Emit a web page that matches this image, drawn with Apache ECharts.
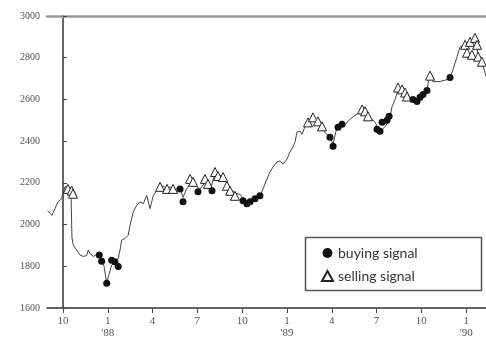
<!DOCTYPE html>
<html>
<head>
<meta charset="utf-8">
<script src="https://cdn.jsdelivr.net/npm/echarts@6/dist/echarts.min.js"></script>
<style>
  html, body { margin: 0; padding: 0; background: #fff; }
  #chart { width: 486px; height: 339px; }
</style>
</head>
<body>
<div id="chart"></div>
<script>
// x values are months counted from Oct '87 (0 = Oct, 3 = Jan '88, ...)
const tickMonths = [0, 3, 6, 9, 12, 15, 18, 21, 24, 27]
const tickLabels = ['10', "1\n'88", '4', '7', '10', "1\n'89", '4', '7', '10', "1\n'90"]

const priceMonth = [-1.04, -0.87, -0.74, -0.54, -0.33, -0.09, 0.02, 0.13, 0.25, 0.37, 0.50, 0.54, 0.60, 0.69, 0.92,
  1.14, 1.36, 1.59, 1.69, 1.81, 2.03, 2.26, 2.43, 2.59, 2.75, 2.93, 3.08, 3.26, 3.48, 3.70, 3.82, 3.93, 4.15, 4.37,
  4.49, 4.60, 4.71, 4.94, 5.16, 5.38, 5.61, 5.83, 6.05, 6.28, 6.50, 6.70, 6.90, 7.17, 7.50, 7.84, 8.04, 8.24, 8.51,
  8.71, 8.91, 9.18, 9.44, 9.71, 9.91, 10.18, 10.45, 10.72, 10.98, 11.25, 11.52, 11.86, 12.12, 12.39, 12.66, 12.93,
  13.19, 13.40, 13.66, 13.86, 14.07, 14.33, 14.53, 14.74, 15.00, 15.20, 15.40, 15.54, 15.67, 15.87, 16.01, 16.21,
  16.41, 16.74, 17.08, 17.35, 17.55, 17.88, 18.09, 18.29, 18.55, 18.89, 19.22, 19.69, 20.03, 20.23, 20.43, 20.70,
  20.90, 21.10, 21.37, 21.57, 21.77, 21.90, 22.04, 22.24, 22.44, 22.71, 22.91, 23.11, 23.38, 23.64, 23.91, 24.11,
  24.38, 24.51, 24.65, 24.78, 25.25, 25.72, 25.92, 26.12, 26.39, 26.59, 26.86, 27.13, 27.39, 27.59, 27.80, 28.00,
  28.20, 28.33]
const priceValue = [2067, 2055, 2044, 2076, 2110, 2124, 2157, 2181, 2187, 2180, 2165, 2150, 1940, 1901, 1878,
  1854, 1847, 1852, 1878, 1862, 1847, 1857, 1850, 1828, 1800, 1719, 1760, 1806, 1820, 1838, 1878, 1925, 1933, 1949,
  1997, 2029, 2062, 2092, 2109, 2100, 2140, 2076, 2140, 2163, 2175, 2185, 2175, 2180, 2170, 2175, 2130, 2165, 2195,
  2215, 2185, 2170, 2195, 2215, 2175, 2250, 2240, 2225, 2200, 2170, 2150, 2145, 2120, 2105, 2115, 2110,
  2135, 2171, 2219, 2252, 2276, 2300, 2305, 2290, 2314, 2348, 2371, 2395, 2443, 2448, 2433, 2471,
  2485, 2505, 2490, 2468, 2440, 2420, 2385, 2450, 2475, 2480, 2505, 2530, 2545, 2540, 2520, 2505,
  2490, 2465, 2455, 2470, 2490, 2515, 2565, 2600, 2645, 2645, 2630, 2615, 2605, 2595, 2600, 2620,
  2645, 2700, 2715, 2685, 2686, 2695, 2705, 2743, 2805, 2852, 2860, 2870, 2880, 2885, 2820, 2790,
  2745, 2710]

const buyMonth = [2.43, 2.59, 2.93, 3.26, 3.48, 3.70, 7.84, 8.04, 9.04, 9.98, 12.06, 12.32, 12.53, 12.86, 13.19,
  17.88, 18.09, 18.42, 18.69, 21.03, 21.23, 21.37, 21.70, 21.84, 23.44, 23.71, 23.91, 24.11, 24.38, 25.92]
const buyValue = [1854, 1824, 1719, 1829, 1822, 1799, 2171, 2110, 2157, 2162, 2114, 2100, 2110, 2124, 2138,
  2419, 2376, 2467, 2481, 2457, 2448, 2490, 2500, 2519, 2600, 2590, 2610, 2624, 2643, 2705]

const sellMonth = [0.33, 0.58, 0.67, 6.50, 6.97, 7.37, 8.51, 8.71, 9.51, 9.71, 10.18, 10.38, 10.72, 10.98, 11.19,
  11.52, 16.41, 16.74, 17.08, 17.35, 20.03, 20.23, 20.43, 22.44, 22.71, 22.91, 23.04, 24.58, 26.93, 27.26, 27.59,
  27.06, 27.39, 27.73, 27.80, 28.06]
const sellValue = [2171, 2163, 2148, 2181, 2171, 2171, 2219, 2205, 2219, 2195, 2252, 2233, 2228, 2186, 2162,
  2138, 2490, 2514, 2495, 2471, 2552, 2543, 2519, 2657, 2648, 2633, 2614, 2714, 2862, 2876, 2895,
  2824, 2814, 2862, 2805, 2781]

const zip = (xs, ys) => xs.map((x, i) => [x, ys[i]])

const xMin = -1.07, xMax = 28.33
const serif = 'Liberation Serif'

const chart = echarts.init(document.getElementById('chart'), null, { renderer: 'canvas' })
chart.setOption({
  animation: false,
  backgroundColor: '#fff',
  grid: { left: 47, right: 0, top: 16, bottom: 29 },
  legend: {
    data: ['buying signal', 'selling signal'],
    orient: 'vertical',
    left: 316, top: 241,
    itemWidth: 11, itemHeight: 10, itemGap: 9,
    textStyle: { fontFamily: 'Lato', fontSize: 14, color: '#333' }
  },
  graphic: [{
    type: 'rect',
    shape: { x: 305.5, y: 237.5, width: 176, height: 53 },
    style: { fill: 'none', stroke: '#555', lineWidth: 1.5 }
  }],
  xAxis: [{
    type: 'value', min: xMin, max: xMax,
    axisLine: { lineStyle: { color: '#333', width: 1.5 } },
    splitLine: { show: false },
    axisTick: { customValues: tickMonths, length: 5, lineStyle: { color: '#444' } },
    axisLabel: {
      customValues: tickMonths,
      formatter: v => tickLabels[tickMonths.indexOf(v)],
      fontFamily: serif, fontSize: 11, color: '#555', lineHeight: 12, margin: 7
    }
  }, {
    type: 'value', min: xMin, max: xMax, position: 'top',
    axisLine: { lineStyle: { color: '#999', width: 2.5 } },
    axisTick: { show: false }, axisLabel: { show: false }, splitLine: { show: false }
  }],
  yAxis: {
    type: 'value', min: 1600, max: 3000, interval: 200,
    axisLine: { show: true, lineStyle: { color: '#333', width: 1.5 } },
    splitLine: { show: false },
    axisTick: { show: true, inside: true, length: 4, lineStyle: { color: '#444' } },
    axisLabel: { fontFamily: serif, fontSize: 10, color: '#555', margin: 7, formatter: v => String(v) }
  },
  series: [{
    name: 'price', type: 'line', data: zip(priceMonth, priceValue),
    showSymbol: false, lineStyle: { color: '#444', width: 1 }, z: 1
  }, {
    name: 'buying signal', type: 'scatter', data: zip(buyMonth, buyValue),
    symbol: 'circle', symbolSize: 7, itemStyle: { color: '#111', opacity: 1 }, z: 3
  }, {
    name: 'selling signal', type: 'scatter', data: zip(sellMonth, sellValue),
    symbol: 'triangle', symbolSize: 9,
    itemStyle: { color: '#fff', borderColor: '#222', borderWidth: 1, opacity: 1 }, z: 2
  }]
})
</script>
</body>
</html>
